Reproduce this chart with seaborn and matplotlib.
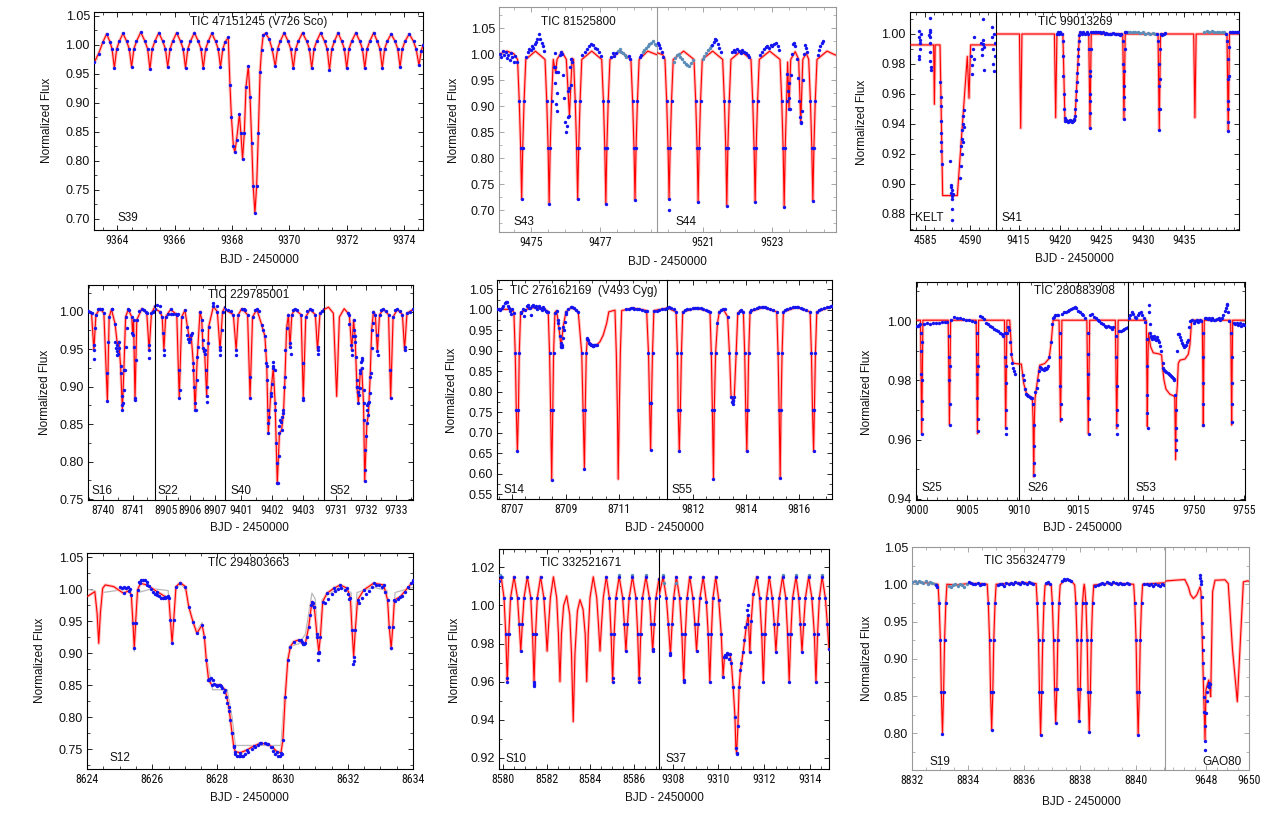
import numpy as np
import matplotlib
matplotlib.use("Agg")
import matplotlib.pyplot as plt
import seaborn as sns
from matplotlib import font_manager
from matplotlib.ticker import FixedLocator, MultipleLocator

# ===================== DATA =====================
# ---- Panel A : TIC 47151245 (V726 Sco), S39
A_model = [
 (9363.20,0.970),(9363.35,0.985),(9363.50,1.005),(9363.63,1.019),(9363.75,1.005),(9363.82,0.993),(9363.90,0.960),
 (9363.98,0.993),(9364.07,1.006),(9364.20,1.020),(9364.33,1.006),(9364.42,0.993),(9364.50,0.962),
 (9364.58,0.993),(9364.67,1.006),(9364.82,1.022),(9364.97,1.006),(9365.06,0.993),(9365.14,0.958),
 (9365.22,0.993),(9365.31,1.006),(9365.45,1.021),(9365.59,1.006),(9365.68,0.993),(9365.76,0.962),
 (9365.84,0.993),(9365.93,1.006),(9366.07,1.021),(9366.21,1.006),(9366.30,0.993),(9366.38,0.960),
 (9366.46,0.993),(9366.55,1.006),(9366.69,1.021),(9366.83,1.006),(9366.92,0.993),(9367.00,0.960),
 (9367.08,0.993),(9367.17,1.006),(9367.30,1.020),(9367.43,1.006),(9367.52,0.993),(9367.60,0.962),
 (9367.68,0.993),(9367.76,1.005),(9367.87,1.013),(9367.93,0.931),(9367.98,0.876),(9368.05,0.825),(9368.10,0.815),
 (9368.16,0.836),(9368.26,0.880),(9368.31,0.848),(9368.37,0.803),(9368.43,0.848),(9368.49,0.928),(9368.57,0.963),
 (9368.63,0.911),(9368.69,0.830),(9368.74,0.756),(9368.80,0.710),(9368.86,0.756),(9368.92,0.848),(9368.98,0.954),
 (9369.03,0.991),(9369.09,1.017),(9369.17,1.020),(9369.30,1.010),(9369.40,0.993),(9369.51,0.963),
 (9369.59,0.993),(9369.68,1.006),(9369.82,1.021),(9369.96,1.006),(9370.05,0.993),(9370.14,0.960),
 (9370.22,0.993),(9370.31,1.006),(9370.46,1.021),(9370.61,1.006),(9370.70,0.993),(9370.78,0.960),
 (9370.86,0.993),(9370.95,1.006),(9371.09,1.021),(9371.23,1.006),(9371.32,0.993),(9371.40,0.957),
 (9371.48,0.993),(9371.57,1.006),(9371.70,1.021),(9371.83,1.006),(9371.92,0.993),(9372.00,0.960),
 (9372.08,0.993),(9372.17,1.006),(9372.32,1.021),(9372.46,1.006),(9372.55,0.993),(9372.63,0.960),
 (9372.71,0.993),(9372.80,1.006),(9372.94,1.021),(9373.07,1.006),(9373.16,0.993),(9373.24,0.960),
 (9373.32,0.993),(9373.41,1.006),(9373.55,1.019),(9373.69,1.006),(9373.78,0.993),(9373.86,0.962),
 (9373.94,0.993),(9374.03,1.006),(9374.18,1.019),(9374.33,1.006),(9374.42,0.993),(9374.52,0.965),
 (9374.60,0.990),(9374.66,1.000)]

# ---- Panel B : TIC 81525800, S43 | S44
B1_model = [
 (9474.07,1.000),(9474.30,1.006),(9474.50,1.001),(9474.61,0.990),(9474.66,0.910),(9474.70,0.820),(9474.73,0.721),
 (9474.76,0.820),(9474.80,0.910),(9474.85,0.990),(9475.13,1.006),(9475.41,0.990),(9475.46,0.910),(9475.50,0.820),
 (9475.53,0.712),(9475.56,0.820),(9475.60,0.910),(9475.65,0.990),(9475.69,0.975),(9475.72,0.965),(9475.76,0.990),
 (9475.90,1.005),(9476.03,0.990),(9476.08,0.930),(9476.12,0.882),(9476.16,0.940),(9476.20,0.992),(9476.24,0.990),
 (9476.29,0.910),(9476.33,0.820),(9476.36,0.721),(9476.39,0.820),(9476.43,0.910),(9476.48,0.990),(9476.77,1.006),
 (9477.06,0.990),(9477.11,0.910),(9477.15,0.820),(9477.18,0.713),(9477.21,0.820),(9477.25,0.910),(9477.30,0.990),
 (9477.60,1.006),(9477.91,0.990),(9477.96,0.910),(9478.00,0.820),(9478.03,0.720),(9478.06,0.820),(9478.10,0.910),
 (9478.15,0.990),(9478.40,1.006),(9478.67,0.999)]
B2_model = [
 (9519.68,1.003),(9519.85,0.999),(9519.91,0.990),(9519.96,0.910),(9520.00,0.820),(9520.03,0.722),(9520.06,0.820),
 (9520.10,0.910),(9520.15,0.990),(9520.45,1.006),(9520.75,0.990),(9520.80,0.910),(9520.84,0.820),(9520.87,0.716),
 (9520.90,0.820),(9520.94,0.910),(9520.99,0.990),(9521.29,1.006),(9521.58,0.990),(9521.63,0.910),(9521.67,0.820),
 (9521.70,0.709),(9521.73,0.820),(9521.77,0.910),(9521.82,0.990),(9522.11,1.006),(9522.40,0.990),(9522.45,0.910),
 (9522.49,0.820),(9522.52,0.716),(9522.55,0.820),(9522.59,0.910),(9522.64,0.990),(9522.94,1.006),(9523.24,0.990),
 (9523.29,0.910),(9523.33,0.820),(9523.36,0.707),(9523.39,0.820),(9523.43,0.910),(9523.46,0.985),(9523.50,0.895),
 (9523.55,0.990),(9523.68,1.005),(9523.78,0.990),(9523.84,0.868),(9523.90,0.990),(9524.00,1.002),(9524.07,0.990),
 (9524.12,0.910),(9524.16,0.820),(9524.19,0.718),(9524.22,0.820),(9524.26,0.910),(9524.31,0.990),(9524.60,1.006),
 (9524.86,0.998)]
B1_obs = [
 (9474.10,1.000),(9474.14,0.995),(9474.18,1.006),(9474.22,0.998),(9474.26,1.004),(9474.30,0.992),(9474.34,0.999),
 (9474.38,0.988),(9474.42,1.002),(9474.46,0.994),(9474.50,0.986),(9474.54,0.996),(9474.58,0.985),
 (9474.87,0.995),(9474.91,1.004),(9474.95,1.010),(9474.99,1.008),(9475.03,1.015),(9475.07,1.012),(9475.11,1.020),
 (9475.15,1.024),(9475.19,1.030),(9475.23,1.038),(9475.27,1.030),(9475.31,1.022),(9475.35,1.016),(9475.39,1.006),
 (9475.67,0.975),(9475.69,1.003),(9475.71,0.945),(9475.73,0.905),(9475.75,0.890),(9475.77,0.925),(9475.80,0.965),
 (9475.84,0.998),(9475.87,1.005),(9475.90,1.000),(9475.93,0.960),(9475.96,0.915),(9475.99,0.870),(9476.01,0.850),
 (9476.04,0.862),(9476.07,0.880),(9476.10,0.935),(9476.13,0.975),(9476.16,0.990),(9476.19,0.985),
 (9476.50,0.998),(9476.56,1.005),(9476.62,1.010),(9476.68,1.015),(9476.74,1.020),(9476.80,1.018),(9476.86,1.012),
 (9476.92,1.010),(9476.98,1.004),(9477.03,0.996),(9477.33,0.995),(9477.38,1.002),(9477.43,0.996),(9477.48,1.003),
 (9477.85,0.996),(9477.89,0.990),(9478.17,0.995),(9478.21,0.998)]
B1_obs2 = [
 (9477.53,1.006),(9477.58,1.010),(9477.63,1.005),(9477.68,1.002),(9477.73,0.998),(9477.78,0.994),(9478.25,1.004),
 (9478.30,1.008),(9478.35,1.012),(9478.40,1.016),(9478.45,1.020),(9478.50,1.022),(9478.55,1.025),(9478.60,1.020),
 (9478.65,1.018)]
B2_obs = [
 (9519.70,1.022),(9519.74,1.018),(9519.78,1.012),(9519.82,1.004),(9519.86,0.995),(9520.04,0.700),
 (9521.28,1.018),(9521.32,1.024),(9521.36,1.030),(9521.40,1.028),(9521.44,1.020),(9521.48,1.012),(9521.52,1.004),
 (9521.85,1.004),(9521.90,1.008),(9521.95,1.005),(9522.00,1.010),(9522.05,1.006),(9522.10,1.003),(9522.15,1.008),
 (9522.20,1.004),(9522.25,1.002),(9522.30,0.998),(9522.35,0.995),
 (9522.67,0.998),(9522.72,1.004),(9522.77,1.010),(9522.82,1.014),(9522.87,1.016),(9522.92,1.012),(9522.97,1.018),
 (9523.02,1.015),(9523.07,1.020),(9523.12,1.022),(9523.17,1.016),(9523.21,1.008),
 (9523.45,0.962),(9523.47,0.930),(9523.49,0.945),(9523.51,0.915),(9523.53,0.895),(9523.56,0.960),(9523.59,1.000),
 (9523.62,1.020),(9523.65,1.022),(9523.68,1.015),(9523.72,0.990),(9523.75,0.955),(9523.78,0.910),(9523.81,0.880),
 (9523.84,0.870),(9523.87,0.890),(9523.90,0.950),(9523.93,1.000),(9523.96,1.018),(9523.99,1.012),(9524.03,1.004),
 (9524.33,0.998),(9524.37,1.008),(9524.41,1.015),(9524.45,1.022),(9524.49,1.025)]
B2_obs2 = [
 (9520.16,0.985),(9520.21,0.992),(9520.26,0.998),(9520.31,1.000),(9520.36,0.995),(9520.41,0.990),(9520.46,0.986),
 (9520.51,0.982),(9520.56,0.980),(9520.61,0.978),(9520.66,0.983),(9520.71,0.988),
 (9521.00,0.990),(9521.05,0.996),(9521.10,1.002),(9521.15,1.008),(9521.20,1.012),(9521.24,1.016)]

# ---- Panel C : TIC 99013269, KELT | S41
C1_model = [
 (4583.33,0.9927),(4585.96,0.9927),(4586.04,0.953),(4586.13,0.9927),(4586.67,0.9927),(4586.96,0.892),
 (4588.59,0.892),(4589.70,0.985),(4589.89,0.957),(4590.07,0.9927),(4592.89,0.9927)]
C1_obs = [
 (4584.30,1.002),(4584.35,0.998),(4584.40,0.994),(4584.42,0.990),(4584.38,0.983),(4584.45,0.996),(4584.50,1.000),
 (4584.32,0.985),(4585.50,1.011),(4585.52,1.003),(4585.55,0.998),(4585.58,0.994),(4585.60,0.988),(4585.55,0.982),
 (4585.62,0.978),(4585.65,0.976),(4585.48,0.999),(4585.60,1.001),(4586.70,0.968),(4586.73,0.958),(4586.75,0.952),
 (4586.78,0.934),(4586.80,0.928),(4586.82,0.922),(4586.84,0.913),(4586.75,0.942),(4587.75,0.915),(4587.85,0.898),
 (4587.90,0.894),(4587.95,0.892),(4588.00,0.890),(4588.02,0.896),(4587.98,0.883),(4588.05,0.876),(4587.92,0.899),
 (4588.08,0.893),(4588.90,0.904),(4588.98,0.912),(4589.05,0.925),(4589.10,0.930),(4589.15,0.936),(4589.20,0.940),
 (4589.25,0.945),(4589.30,0.949),(4589.12,0.920),(4589.22,0.928),(4589.28,0.938),(4590.10,0.985),(4590.18,0.979),
 (4590.25,0.973),(4590.30,0.990),(4590.40,0.998),(4590.50,0.983),(4591.25,0.994),(4591.30,0.990),(4591.35,0.986),
 (4591.40,0.996),(4591.45,1.010),(4591.50,0.993),(4591.55,0.976),(4591.60,0.991),(4592.45,1.005),(4592.50,0.998),
 (4592.55,0.990),(4592.60,0.980),(4592.65,0.975),(4592.70,1.000),(4592.75,0.985),(4592.80,0.994)]
C2_model = [
 (9412.28,1.000),(9415.11,1.000),(9415.26,0.937),(9415.41,1.000),(9419.33,1.000),(9419.48,0.944),(9419.63,1.000),
 (9420.35,1.000),(9420.60,0.942),(9421.80,0.942),(9422.35,1.000),(9423.47,1.000),(9423.62,0.937),(9423.77,1.000),
 (9427.57,1.000),(9427.72,0.943),(9427.87,1.000),(9431.83,1.000),(9431.98,0.936),(9432.13,1.000),(9436.13,1.000),
 (9436.28,0.944),(9436.43,1.000),(9440.15,1.000),(9440.30,0.935),(9440.45,1.000),(9441.60,1.000)]
C2_obs = [
 (9419.60,1.000),(9419.75,1.001),(9419.90,1.000),(9420.05,1.001),(9420.20,1.000),(9420.32,0.995),(9420.38,0.985),
 (9420.42,0.972),(9420.46,0.960),(9420.50,0.950),(9420.55,0.944),(9420.65,0.942),(9420.75,0.9425),(9420.85,0.942),
 (9420.95,0.9415),(9421.05,0.942),(9421.15,0.9425),(9421.25,0.942),(9421.35,0.942),(9421.45,0.9415),(9421.55,0.942),
 (9421.65,0.9425),(9421.75,0.943),(9421.82,0.945),(9421.87,0.950),(9421.92,0.956),(9421.97,0.962),(9422.02,0.968),
 (9422.07,0.974),(9422.12,0.980),(9422.17,0.985),(9422.22,0.990),(9422.27,0.995),(9422.32,0.999),(9422.40,1.001),
 (9422.60,1.000),(9422.80,1.001),(9423.00,1.000),(9423.20,1.001),(9423.40,1.000),(9423.55,0.990),(9423.58,0.975),
 (9423.60,0.960),(9423.62,0.947),(9423.63,0.937),(9423.65,0.955),(9423.67,0.972),(9423.70,0.990),(9423.80,1.001),
 (9424.00,1.001),(9424.20,1.0015),(9424.40,1.001),(9424.60,1.0015),(9424.80,1.001),(9425.00,1.0005),(9425.20,1.001),
 (9425.40,1.000),(9425.60,1.0005),(9425.80,1.000),(9426.00,1.000),(9426.20,1.000),(9426.40,1.0005),(9426.60,1.000),
 (9426.80,1.000),(9427.00,1.000),(9427.20,0.9995),(9427.40,1.000),(9427.60,0.995),(9427.65,0.980),(9427.68,0.965),
 (9427.71,0.950),(9427.73,0.943),(9427.75,0.958),(9427.78,0.975),(9427.81,0.990),(9427.90,1.001),(9428.00,1.0015),
 (9431.75,1.000),(9431.88,0.995),(9431.92,0.980),(9431.95,0.965),(9431.97,0.950),(9431.99,0.936),(9432.01,0.950),
 (9432.04,0.970),(9432.08,0.990),(9432.15,1.000),(9432.30,0.9995),(9432.50,1.000),(9432.70,1.0005),
 (9440.05,1.000),(9440.18,0.995),(9440.22,0.983),(9440.25,0.970),(9440.27,0.955),(9440.29,0.941),(9440.31,0.935),
 (9440.33,0.950),(9440.36,0.972),(9440.40,0.991),(9440.50,1.001),(9440.70,1.0015),(9440.90,1.001),(9441.10,1.0015),
 (9441.30,1.001),(9441.50,1.001)]
C2_obs2 = [
 (9428.2,1.001),(9428.5,1.0015),(9428.8,1.001),(9429.1,1.0015),(9429.4,1.001),(9429.7,1.0005),(9430.0,1.001),
 (9430.3,1.000),(9430.6,1.0005),(9430.9,1.000),(9431.2,1.0005),(9431.5,1.000),(9437.4,1.0015),(9437.7,1.002),
 (9438.0,1.0015),(9438.3,1.002),(9438.6,1.0015),(9438.9,1.001),(9439.2,1.0015),(9439.5,1.001),(9439.8,1.001)]

# ---- Panel D : TIC 229785001, S16 | S22 | S40 | S52
D1_model = [
 (8739.48,1.001),(8739.60,0.998),(8739.68,0.949),(8739.75,0.996),(8739.89,1.004),(8740.02,0.998),(8740.14,0.881),
 (8740.20,0.993),(8740.28,1.003),(8740.40,0.984),(8740.48,0.956),(8740.53,0.960),(8740.59,0.927),(8740.65,0.869),
 (8740.70,0.922),(8740.76,0.993),(8740.85,1.003),(8740.97,0.993),(8741.00,0.969),(8741.03,0.989),(8741.08,0.882),
 (8741.14,0.989),(8741.31,1.004),(8741.48,0.998),(8741.56,0.949),(8741.64,0.998),(8741.76,1.007)]
D2_model = [
 (8904.57,1.004),(8904.77,1.000),(8904.86,0.993),(8904.93,0.949),(8905.00,0.993),(8905.20,1.003),(8905.45,0.996),
 (8905.55,0.885),(8905.65,0.993),(8905.78,1.002),(8905.88,0.980),(8905.96,0.964),(8906.03,0.969),(8906.12,0.931),
 (8906.19,0.869),(8906.28,0.940),(8906.39,1.000),(8906.46,0.989),(8906.51,0.951),(8906.58,0.944),(8906.66,0.887),
 (8906.74,0.980),(8906.93,1.007),(8907.09,1.000),(8907.20,0.949),(8907.30,1.000),(8907.40,1.006)]
D3_model = [
 (9400.49,1.003),(9400.76,0.996),(9400.85,0.949),(9400.92,0.996),(9401.03,1.004),(9401.22,0.996),(9401.30,0.885),
 (9401.38,0.993),(9401.52,1.003),(9401.68,0.982),(9401.78,0.967),(9401.84,0.927),(9401.89,0.838),(9401.97,0.891),
 (9402.05,0.925),(9402.11,0.878),(9402.18,0.771),(9402.25,0.838),(9402.32,0.842),(9402.38,0.865),(9402.43,0.913),
 (9402.48,0.978),(9402.54,0.996),(9402.59,0.953),(9402.65,0.996),(9402.75,1.003),(9402.95,0.996),(9403.02,0.885),
 (9403.10,0.993),(9403.24,1.003),(9403.41,0.996),(9403.48,0.949),(9403.56,0.998),(9403.69,1.003)]
D4_model = [
 (9730.61,1.003),(9730.76,1.006),(9730.92,0.998),(9731.03,0.887),(9731.12,0.993),(9731.28,1.004),(9731.45,0.996),
 (9731.53,0.949),(9731.59,0.989),(9731.64,0.967),(9731.70,0.900),(9731.75,0.878),(9731.81,0.918),(9731.86,0.925),
 (9731.92,0.878),(9731.96,0.774),(9732.03,0.851),(9732.08,0.862),(9732.14,0.913),(9732.19,0.976),(9732.25,1.000),
 (9732.31,0.996),(9732.38,0.947),(9732.45,0.996),(9732.58,1.003),(9732.75,0.996),(9732.82,0.885),(9732.90,0.993),
 (9733.04,1.003),(9733.21,0.996),(9733.28,0.949),(9733.36,0.998),(9733.56,1.003)]
D1_obs = [
 (8739.68,0.937),(8739.68,0.956),(8739.72,0.978),(8740.14,0.918),(8740.16,0.960),(8740.40,0.960),(8740.43,0.952),
 (8740.45,0.948),(8740.48,0.942),(8740.51,0.944),(8740.55,0.951),(8740.59,0.918),(8740.63,0.887),(8740.65,0.876),
 (8740.67,0.878),(8740.70,0.896),(8740.74,0.922),(8740.77,0.953),(8740.80,0.978),(8740.97,0.971),(8741.05,0.953),
 (8741.08,0.885),(8741.11,0.936),(8741.56,0.956),(8741.56,0.938),(8739.55,1.000),(8739.82,1.003),(8739.95,1.004),
 (8740.30,1.003),(8740.88,1.002),(8741.20,1.001),(8741.38,1.002),(8741.45,1.000),(8741.68,0.999),(8741.72,1.001)]
D2_obs = [
 (8904.64,1.009),(8904.77,1.008),(8904.91,0.971),(8904.93,0.942),(8905.11,0.9965),(8905.20,0.9965),(8905.31,0.9965),
 (8905.42,0.9965),(8905.51,0.9965),(8905.55,0.922),(8905.58,0.896),(8905.88,0.969),(8905.92,0.964),(8905.96,0.960),
 (8905.99,0.964),(8906.03,0.969),(8906.05,0.971),(8906.09,0.922),(8906.15,0.900),(8906.19,0.878),(8906.22,0.869),
 (8906.26,0.909),(8906.32,0.953),(8906.46,0.976),(8906.50,0.962),(8906.55,0.947),(8906.59,0.949),(8906.64,0.922),
 (8906.66,0.900),(8906.69,0.880),(8906.73,0.958),(8906.93,1.011),(8907.07,1.008),(8907.20,0.953),(8907.20,0.942),
 (8907.27,0.976)]
D3_obs = [
 (9400.85,0.942),(9401.30,0.913),(9401.73,0.976),(9401.78,0.949),(9401.82,0.931),(9401.84,0.909),(9401.87,0.869),
 (9401.89,0.851),(9401.92,0.860),(9401.97,0.887),(9402.00,0.904),(9402.03,0.927),(9402.05,0.933),(9402.09,0.922),
 (9402.12,0.869),(9402.14,0.825),(9402.16,0.798),(9402.19,0.771),(9402.22,0.807),(9402.25,0.847),(9402.27,0.856),
 (9402.30,0.853),(9402.33,0.860),(9402.38,0.869),(9402.41,0.900),(9402.44,0.949),(9402.59,0.958),(9402.62,0.944),
 (9403.00,0.931),(9403.02,0.882),(9403.48,0.953),(9403.48,0.944),(9400.60,1.002),(9400.68,1.001),(9401.10,1.003),
 (9401.15,1.002),(9401.45,1.002),(9401.60,1.001),(9402.70,1.002),(9402.82,1.002),(9403.15,1.001),(9403.30,1.002),
 (9403.62,1.001)]
D4_obs = [
 (9731.45,0.984),(9731.50,0.956),(9731.53,0.942),(9731.56,0.967),(9731.61,0.976),(9731.65,0.960),(9731.67,0.940),
 (9731.70,0.909),(9731.72,0.900),(9731.74,0.893),(9731.76,0.889),(9731.79,0.898),(9731.81,0.922),(9731.83,0.933),
 (9731.86,0.938),(9731.88,0.936),(9731.92,0.896),(9731.94,0.856),(9731.96,0.816),(9731.98,0.789),(9732.01,0.834),
 (9732.03,0.869),(9732.05,0.876),(9732.08,0.878),(9732.11,0.880),(9732.14,0.891),(9732.16,0.918),(9732.19,0.951),
 (9732.23,0.985),(9732.36,0.969),(9732.40,0.942),(9732.80,0.922),(9733.28,0.953),(9731.40,0.998),(9732.50,1.002),
 (9732.65,1.001),(9732.95,1.002),(9733.12,1.001),(9733.45,1.000)]

# ---- Panel E : TIC 276162169 (V493 Cyg), S14 | S55
E1_model = [
 (8706.44,1.001),(8706.99,1.001),(8707.07,0.993),(8707.12,0.894),(8707.16,0.755),(8707.20,0.654),(8707.24,0.755),
 (8707.27,0.894),(8707.32,0.993),(8707.67,1.005),(8708.17,1.004),(8708.35,0.995),(8708.40,0.894),(8708.44,0.755),
 (8708.48,0.584),(8708.52,0.755),(8708.55,0.894),(8708.60,0.993),(8708.66,0.998),(8708.73,0.967),(8708.83,0.910),
 (8708.91,0.959),(8709.01,0.995),(8709.22,1.006),(8709.47,0.995),(8709.60,0.894),(8709.65,0.755),(8709.70,0.610),
 (8709.73,0.755),(8709.77,0.894),(8709.81,0.930),(8709.91,0.917),(8710.03,0.912),(8710.16,0.914),(8710.28,0.922),
 (8710.40,0.938),(8710.53,0.967),(8710.61,0.995),(8710.84,0.999),(8710.89,0.894),(8710.93,0.755),(8710.96,0.586),
 (8711.00,0.755),(8711.04,0.894),(8711.09,0.998),(8711.52,1.004),(8712.02,0.998),(8712.09,0.894),(8712.13,0.772),
 (8712.17,0.658),(8712.20,0.772),(8712.24,0.894),(8712.29,0.998),(8712.78,1.004)]
E2_model = [
 (9811.04,1.005),(9811.38,0.995),(9811.43,0.894),(9811.46,0.755),(9811.50,0.654),(9811.54,0.755),(9811.58,0.894),
 (9811.63,0.995),(9812.15,1.004),(9812.65,0.995),(9812.70,0.894),(9812.74,0.755),(9812.78,0.586),(9812.81,0.755),
 (9812.86,0.894),(9812.93,0.967),(9813.00,0.995),(9813.15,1.001),(9813.31,0.983),(9813.38,0.894),(9813.44,0.788),
 (9813.50,0.780),(9813.56,0.788),(9813.63,0.894),(9813.69,0.991),(9813.78,0.998),(9813.90,0.995),(9813.95,0.894),
 (9813.99,0.755),(9814.03,0.654),(9814.06,0.755),(9814.10,0.894),(9814.15,0.995),(9814.65,1.006),(9815.15,0.995),
 (9815.20,0.894),(9815.24,0.755),(9815.28,0.588),(9815.31,0.755),(9815.35,0.894),(9815.40,0.995),(9815.90,1.006),
 (9816.40,0.995),(9816.45,0.894),(9816.49,0.755),(9816.53,0.654),(9816.56,0.755),(9816.60,0.894),(9816.65,0.995),
 (9817.22,1.008)]
E1_cover = [(8706.44, 8710.16), (8711.19, 8712.79)]
E1_obs = [
 (8706.50,1.002),(8706.56,1.000),(8706.62,1.004),(8706.68,1.010),(8706.72,1.016),(8706.76,1.020),(8706.80,1.018),
 (8706.84,1.010),(8706.88,1.004),(8706.93,0.998),(8706.97,0.990),(8707.35,0.995),(8707.40,1.003),(8707.45,0.985),
 (8707.50,1.000),(8707.55,1.010),(8707.60,1.012),(8707.65,1.004),(8707.70,0.988),(8707.75,1.008),(8707.80,1.012),
 (8707.85,1.006),(8707.90,1.010),(8707.95,1.002),(8708.00,1.008),(8708.05,1.004),(8708.10,1.000),(8708.15,1.006),
 (8708.20,1.002),(8708.25,0.998),(8708.30,0.995),(8708.72,0.975),(8708.76,0.955),(8708.80,0.935),(8708.82,0.920),
 (8708.84,0.912),(8708.86,0.908),(8708.88,0.915),(8708.90,0.930),(8708.93,0.950),(8708.96,0.970),(8709.00,0.990),
 (8709.10,1.003),(8709.20,1.006),(8709.30,1.004),(8709.40,1.000),(8709.80,0.928),(8709.83,0.925),(8709.86,0.920),
 (8709.90,0.916),(8709.94,0.914),(8709.98,0.913),(8710.02,0.912),(8710.06,0.913),(8710.10,0.913),(8710.14,0.914),
 (8711.25,1.002),(8711.35,1.003),(8711.45,1.004),(8711.55,1.003),(8711.65,1.002),(8711.75,1.001),(8711.85,1.000),
 (8711.95,0.998),(8712.40,0.998),(8712.50,1.000),(8712.60,1.001),(8712.70,1.002)]
E2_obs = [
 (9811.10,1.006),(9811.20,1.004),(9811.30,1.001),(9811.70,1.000),(9811.80,1.002),(9811.90,1.003),(9812.00,1.004),
 (9812.10,1.004),(9812.20,1.005),(9812.30,1.004),(9812.40,1.003),(9812.50,1.000),(9812.58,0.998),(9813.08,1.000),
 (9813.20,1.001),(9813.46,0.775),(9813.50,0.770),(9813.53,0.778),(9813.82,0.999),(9814.20,1.000),(9814.30,1.003),
 (9814.40,1.005),(9814.50,1.006),(9814.60,1.006),(9814.70,1.006),(9814.80,1.005),(9814.90,1.003),(9815.00,1.000),
 (9815.45,1.000),(9815.55,1.003),(9815.65,1.005),(9815.75,1.006),(9815.85,1.007),(9815.95,1.006),(9816.05,1.005),
 (9816.15,1.003),(9816.25,1.000),(9816.72,1.000),(9816.82,1.002),(9816.92,1.004),(9817.02,1.006),(9817.12,1.007),
 (9817.20,1.008)]

# ---- Panel F : TIC 280883908, S25 | S26 | S53
F1_model = [
 (8999.93,1.0003),(9000.38,1.0003),(9000.50,0.962),(9000.62,1.0003),(9003.15,1.0003),(9003.27,0.965),(9003.39,1.0003),
 (9005.95,1.0003),(9006.07,0.962),(9006.19,1.0003),(9008.78,1.0003),(9008.90,0.964),(9009.02,1.0003),(9009.30,1.0003),
 (9009.40,0.995),(9009.50,0.988),(9009.65,0.9858),(9010.23,0.9855)]
F2_model = [
 (9010.00,0.9855),(9010.20,0.9855),(9010.40,0.979),(9010.63,0.9756),(9011.14,0.9739),(9011.20,0.9666),(9011.26,0.9474),
 (9011.31,0.9666),(9011.37,0.9739),(9011.54,0.979),(9011.77,0.9851),(9012.20,0.9857),(9012.57,0.9874),(9012.74,0.9925),
 (9012.91,1.0003),(9013.42,1.0003),(9013.54,0.966),(9013.66,1.0003),(9015.79,1.0003),(9015.91,0.962),(9016.03,1.0003),
 (9018.22,1.0003),(9018.34,0.9637),(9018.46,1.0003),(9019.30,1.0003)]
F3_model = [
 (9743.49,1.0003),(9745.30,1.0003),(9745.35,0.985),(9745.40,0.9644),(9745.45,0.985),(9745.52,0.9960),(9745.60,0.9942),
 (9745.73,0.9913),(9745.99,0.9893),(9746.59,0.9889),(9746.82,0.9885),(9746.92,0.984),(9747.05,0.9801),(9747.25,0.977),
 (9747.64,0.9753),(9748.04,0.9747),(9748.12,0.9740),(9748.20,0.9532),(9748.28,0.9740),(9748.37,0.978),(9748.47,0.9857),
 (9748.63,0.9868),(9749.13,0.9872),(9749.46,0.9888),(9749.62,0.992),(9749.79,1.0003),(9750.84,1.0003),(9750.89,0.985),
 (9750.94,0.9644),(9750.99,0.985),(9751.04,1.0003),(9753.65,1.0003),(9753.70,0.985),(9753.75,0.9649),(9753.80,0.985),
 (9753.85,1.0003),(9755.07,1.0003)]
F1_obs = [
 (9000.00,0.9982),(9000.10,0.9985),(9000.20,0.9988),(9000.30,0.9990),(9000.46,0.996),(9000.47,0.990),(9000.48,0.982),
 (9000.49,0.973),(9000.52,0.967),(9000.53,0.962),(9000.55,0.980),(9000.57,0.993),(9000.70,0.9990),(9001.00,0.9992),
 (9001.30,0.9990),(9001.60,0.9995),(9001.90,0.9993),(9002.20,0.9995),(9002.50,0.9997),(9002.80,0.9996),(9003.00,0.9998),
 (9003.23,0.995),(9003.24,0.988),(9003.26,0.980),(9003.28,0.972),(9003.29,0.965),(9003.31,0.985),(9003.40,1.0005),
 (9003.70,1.0015),(9004.00,1.0010),(9004.30,1.0012),(9004.60,1.0008),(9004.90,1.0005),(9005.20,1.0003),(9005.50,1.0002),
 (9005.80,0.9998),(9006.03,0.996),(9006.04,0.989),(9006.05,0.982),(9006.07,0.974),(9006.09,0.967),(9006.10,0.963),
 (9006.12,0.985),(9006.30,1.0018),(9006.50,1.0015),(9006.70,1.0008),(9006.90,0.9995),(9007.10,0.9990),(9007.30,0.9985),
 (9007.50,0.9980),(9007.70,0.9975),(9007.90,0.9970),(9008.10,0.9965),(9008.30,0.9960),(9008.50,0.9955),(9008.65,0.9950),
 (9008.86,0.996),(9008.87,0.988),(9008.89,0.979),(9008.90,0.970),(9008.91,0.964),(9008.92,0.962),(9008.94,0.985),
 (9009.05,0.9960),(9009.15,0.9980),(9009.25,0.9970),(9009.35,0.9930),(9009.45,0.9890),(9009.55,0.9860),(9009.65,0.9840),
 (9009.75,0.9830),(9009.85,0.9820)]
F2_obs = [
 (9010.30,0.9818),(9010.40,0.9800),(9010.50,0.9770),(9010.60,0.9755),(9010.70,0.9750),(9010.80,0.9748),(9010.90,0.9745),
 (9011.00,0.9742),(9011.10,0.9740),(9011.22,0.972),(9011.24,0.965),(9011.25,0.958),(9011.27,0.952),(9011.28,0.948),
 (9011.40,0.9760),(9011.50,0.9775),(9011.60,0.9800),(9011.70,0.9830),(9011.80,0.9845),(9011.90,0.9840),(9012.00,0.9838),
 (9012.10,0.9835),(9012.20,0.9840),(9012.30,0.9838),(9012.40,0.9842),(9012.50,0.9850),(9012.60,0.9880),(9012.70,0.9930),
 (9012.80,0.9990),(9012.90,1.0010),(9013.00,1.0015),(9013.10,1.0020),(9013.20,1.0022),(9013.30,1.0020),(9013.50,0.996),
 (9013.51,0.988),(9013.53,0.978),(9013.55,0.972),(9013.57,0.967),(9013.70,1.0025),(9013.85,1.0030),(9014.00,1.0032),
 (9014.15,1.0035),(9014.30,1.0038),(9014.45,1.0040),(9014.60,1.0045),(9014.75,1.0048),(9014.90,1.0045),(9015.05,1.0035),
 (9015.20,1.0030),(9015.35,1.0025),(9015.50,1.0020),(9015.65,1.0012),(9015.87,0.996),(9015.88,0.989),(9015.90,0.982),
 (9015.92,0.974),(9015.93,0.967),(9015.94,0.962),(9016.10,1.0020),(9016.25,1.0025),(9016.40,1.0015),(9016.55,1.0010),
 (9016.70,1.0005),(9016.85,1.0000),(9017.00,0.9995),(9017.15,0.9990),(9017.30,0.9985),(9017.45,0.9980),(9017.60,0.9985),
 (9017.75,0.9980),(9017.90,0.9975),(9018.05,0.9980),(9018.30,0.995),(9018.31,0.988),(9018.33,0.978),(9018.35,0.970),
 (9018.36,0.965),(9018.37,0.962),(9018.55,0.9968),(9018.70,0.9965),(9018.85,0.9970),(9019.00,0.9972),(9019.15,0.9978),
 (9019.30,0.9980)]
F3_obs = [
 (9743.55,1.0010),(9743.70,1.0020),(9743.85,1.0031),(9744.00,1.0025),(9744.15,1.0015),(9744.30,1.0010),(9744.45,1.0020),
 (9744.60,1.0028),(9744.75,1.0031),(9744.90,1.0022),(9745.05,1.0010),(9745.20,0.9998),(9745.38,0.994),(9745.39,0.985),
 (9745.40,0.975),(9745.41,0.969),(9745.42,0.964),(9745.55,1.0054),(9745.58,1.0030),(9745.62,0.9990),(9745.66,0.9960),
 (9745.72,0.9950),(9745.80,0.9945),(9745.90,0.9940),(9746.00,0.9945),(9746.10,0.9950),(9746.20,0.9940),(9746.30,0.9935),
 (9746.40,0.9945),(9746.50,0.9935),(9746.60,0.9930),(9746.70,0.9915),(9746.80,0.9900),(9746.92,0.9860),(9747.00,0.9840),
 (9747.10,0.9835),(9747.20,0.9830),(9747.30,0.9828),(9747.40,0.9825),(9747.50,0.9820),(9747.60,0.9818),(9747.70,0.9815),
 (9747.80,0.9810),(9747.90,0.9807),(9748.00,0.9805),(9748.08,0.9801),(9748.19,0.9750),(9748.20,0.9700),(9748.21,0.9640),
 (9748.22,0.9600),(9748.23,0.9565),(9748.35,0.9900),(9748.42,0.9958),(9748.50,0.9955),(9748.60,0.9945),(9748.70,0.9935),
 (9748.80,0.9925),(9748.90,0.9918),(9749.00,0.9913),(9749.10,0.9915),(9749.20,0.9920),(9749.30,0.9930),(9749.40,0.9935),
 (9749.55,0.9980),(9749.65,1.0000),(9749.85,1.0005),(9750.00,0.9995),(9750.15,1.0002),(9750.30,1.0005),(9750.45,0.9998),
 (9750.60,1.0003),(9750.75,1.0000),(9750.92,0.996),(9750.93,0.988),(9750.94,0.979),(9750.95,0.972),(9750.96,0.965),
 (9751.10,1.0010),(9751.25,1.0012),(9751.40,1.0008),(9751.55,1.0010),(9751.70,1.0005),(9751.85,1.0010),(9752.00,1.0003),
 (9752.15,1.0005),(9752.30,1.0008),(9752.45,1.0010),(9752.60,1.0005),(9752.75,1.0010),(9752.90,1.0020),(9753.05,1.0035),
 (9753.15,1.0045),(9753.25,1.0055),(9753.32,1.0059),(9753.40,1.0030),(9753.50,1.0000),(9753.73,0.996),(9753.74,0.988),
 (9753.75,0.979),(9753.76,0.972),(9753.77,0.966),(9753.95,0.9995),(9754.10,0.9990),(9754.25,0.9993),(9754.40,0.9988),
 (9754.55,0.9992),(9754.70,0.9985),(9754.85,0.9990),(9755.00,0.9988)]

# ---- Panel G : TIC 294803663, S12
G_model = [
 (8624.00,0.9885),(8624.24,0.9963),(8624.31,0.9625),(8624.36,0.9156),(8624.41,0.9625),(8624.48,1.0015),(8624.56,1.0068),
 (8624.82,1.0042),(8625.12,0.9937),(8625.28,0.9979),(8625.36,0.9911),(8625.41,0.9468),(8625.45,0.9078),(8625.49,0.9468),
 (8625.55,0.9989),(8625.64,1.0094),(8625.84,1.0068),(8626.15,0.9963),(8626.40,0.9885),(8626.51,0.9859),(8626.56,0.952),
 (8626.61,0.9156),(8626.66,0.952),(8626.73,1.0042),(8626.86,1.0104),(8627.02,1.0042),(8627.12,0.9729),(8627.25,0.9494),
 (8627.37,0.9312),(8627.53,0.9442),(8627.60,0.926),(8627.66,0.8895),(8627.73,0.8583),(8627.83,0.8505),(8628.09,0.8505),
 (8628.24,0.8426),(8628.35,0.8166),(8628.45,0.7749),(8628.50,0.7541),(8628.55,0.7463),(8628.70,0.7447),(8628.91,0.7489),
 (8629.11,0.7551),(8629.32,0.7593),(8629.52,0.7582),(8629.67,0.7541),(8629.83,0.7463),(8629.95,0.7447),(8630.01,0.7645),
 (8630.08,0.8322),(8630.16,0.8895),(8630.24,0.9104),(8630.34,0.9182),(8630.49,0.9208),(8630.63,0.9145),(8630.70,0.9156),
 (8630.80,0.9416),(8630.90,0.9807),(8630.97,0.9729),(8631.06,0.926),(8631.11,0.9026),(8631.16,0.926),(8631.23,0.9807),
 (8631.36,0.9937),(8631.57,1.0015),(8631.77,1.0068),(8631.98,1.0015),(8632.08,0.9859),(8632.13,0.9364),(8632.18,0.8947),
 (8632.23,0.9364),(8632.30,0.9833),(8632.49,0.9989),(8632.79,1.0094),(8633.10,1.0068),(8633.22,0.9833),(8633.27,0.9416),
 (8633.33,0.9078),(8633.38,0.9416),(8633.43,0.9833),(8633.61,0.9885),(8634.00,1.0120)]
G_gray = [
 (8624.00,1.000),(8624.24,0.998),(8624.36,0.914),(8624.48,0.995),(8625.20,1.000),(8625.33,0.998),(8625.45,0.903),
 (8625.57,0.995),(8626.00,1.001),(8626.49,0.998),(8626.61,0.914),(8626.73,1.000),(8626.86,1.008),(8627.00,1.002),
 (8627.20,0.960),(8627.37,0.935),(8627.53,0.948),(8627.68,0.890),(8627.85,0.843),(8628.30,0.843),(8628.45,0.800),
 (8628.55,0.756),(8629.95,0.756),(8630.05,0.830),(8630.20,0.910),(8630.50,0.915),(8630.70,0.930),(8630.90,0.994),
 (8631.00,0.985),(8631.11,0.905),(8631.22,0.985),(8631.50,0.995),(8631.77,1.003),(8632.00,0.998),(8632.10,0.995),
 (8632.18,0.895),(8632.28,0.995),(8632.80,1.003),(8633.20,0.998),(8633.33,0.905),(8633.45,0.995),(8634.00,1.003)]
G_cover = [(8625.0, 8634.0)]
G_obs = [
 (8625.02,1.003),(8625.08,1.0025),(8625.14,1.003),(8625.20,1.002),(8625.26,1.0035),(8625.32,1.001),(8625.60,1.012),
 (8625.66,1.0145),(8625.72,1.015),(8625.78,1.014),(8625.84,1.012),(8625.90,1.005),(8625.96,1.000),(8626.02,0.996),
 (8626.08,0.993),(8626.14,0.991),(8626.20,0.989),(8626.26,0.987),(8626.32,0.986),(8626.38,0.986),(8626.44,0.988),
 (8626.48,0.990),(8627.70,0.858),(8627.75,0.860),(8627.80,0.862),(8627.85,0.858),(8627.90,0.852),(8627.95,0.850),
 (8628.00,0.849),(8628.05,0.850),(8628.10,0.849),(8628.15,0.846),(8628.20,0.840),(8628.25,0.832),(8628.30,0.822),
 (8628.35,0.810),(8628.40,0.795),(8628.45,0.775),(8628.50,0.755),(8628.55,0.742),(8628.60,0.740),(8628.65,0.739),
 (8628.70,0.739),(8628.75,0.739),(8628.80,0.740),(8628.85,0.742),(8628.95,0.746),(8629.05,0.750),(8629.15,0.754),
 (8629.25,0.757),(8629.35,0.760),(8629.45,0.760),(8629.55,0.758),(8629.65,0.754),(8629.72,0.748),(8629.78,0.742),
 (8629.85,0.740),(8629.92,0.740),(8629.97,0.742),(8630.55,0.920),(8630.60,0.918),(8630.65,0.915),(8630.75,0.925),
 (8630.85,0.960),(8630.88,0.975),(8630.92,0.978),(8630.95,0.972),(8631.05,0.930),(8631.08,0.900),(8631.10,0.890),
 (8631.13,0.900),(8631.30,0.978),(8631.40,0.985),(8631.50,0.992),(8631.60,0.997),(8631.70,1.001),(8631.80,1.002),
 (8631.90,0.999),(8632.00,0.993),(8632.05,0.985),(8632.17,0.884),(8632.19,0.888),(8632.35,0.978),(8632.45,0.986),
 (8632.55,0.993),(8632.65,0.998),(8632.75,1.003),(8632.85,1.006),(8632.95,1.006),(8633.05,1.004),(8633.15,0.995),
 (8633.45,0.982),(8633.55,0.985),(8633.65,0.989),(8633.75,0.995),(8633.85,1.003),(8633.95,1.010),(8633.99,1.014)]

# ---- Panel H : TIC 332521671, S10 | S37
H1_model = [
 (8579.80,1.013),(8579.90,1.015),(8580.03,1.004),(8580.11,0.985),(8580.18,0.960),(8580.25,0.985),(8580.33,1.004),
 (8580.49,1.015),(8580.65,1.004),(8580.73,0.990),(8580.80,0.976),(8580.87,0.990),(8580.95,1.004),(8581.10,1.015),
 (8581.26,1.004),(8581.34,0.985),(8581.41,0.960),(8581.48,0.985),(8581.56,1.004),(8581.71,1.015),(8581.86,1.004),
 (8581.94,0.990),(8582.01,0.976),(8582.08,0.990),(8582.16,1.004),(8582.30,1.015),(8582.45,1.004),(8582.53,0.985),
 (8582.60,0.960),(8582.67,0.985),(8582.77,1.000),(8582.91,1.005),(8583.05,0.995),(8583.13,0.975),(8583.21,0.939),
 (8583.29,0.975),(8583.40,0.997),(8583.52,1.003),(8583.66,0.998),(8583.76,0.985),(8583.83,0.960),(8583.90,0.985),
 (8583.98,1.004),(8584.13,1.015),(8584.29,1.004),(8584.37,0.990),(8584.44,0.976),(8584.51,0.990),(8584.59,1.004),
 (8584.73,1.015),(8584.87,1.004),(8584.95,0.985),(8585.02,0.960),(8585.09,0.985),(8585.17,1.004),(8585.32,1.015),
 (8585.48,1.004),(8585.56,0.990),(8585.63,0.976),(8585.70,0.990),(8585.78,1.004),(8585.93,1.015),(8586.09,1.004),
 (8586.17,0.985),(8586.24,0.960),(8586.31,0.985),(8586.39,1.004),(8586.55,1.015),(8586.71,1.004),(8586.79,0.990),
 (8586.86,0.976),(8586.93,0.990),(8587.01,1.004),(8587.15,1.014)]
H2_model = [
 (9307.40,1.005),(9307.58,1.015),(9307.72,1.004),(9307.81,0.990),(9307.90,0.974),(9307.97,0.990),(9308.04,1.004),
 (9308.16,1.015),(9308.30,1.004),(9308.40,0.985),(9308.48,0.960),(9308.55,0.985),(9308.63,1.004),(9308.74,1.015),
 (9308.88,1.004),(9308.97,0.990),(9309.04,0.976),(9309.11,0.990),(9309.19,1.004),(9309.33,1.015),(9309.47,1.002),
 (9309.55,0.985),(9309.62,0.960),(9309.69,0.985),(9309.76,1.004),(9309.88,1.015),(9310.01,1.003),(9310.12,0.985),
 (9310.20,0.9626),(9310.26,0.973),(9310.32,0.973),(9310.42,0.9745),(9310.50,0.9745),(9310.56,0.970),(9310.64,0.9573),
 (9310.72,0.9416),(9310.76,0.925),(9310.79,0.9225),(9310.85,0.937),(9310.90,0.957),(9310.96,0.966),(9311.08,0.9757),
 (9311.23,0.9905),(9311.30,0.995),(9311.37,0.9757),(9311.43,0.992),(9311.52,1.006),(9311.67,1.015),(9311.80,1.004),
 (9311.89,0.985),(9311.96,0.960),(9312.03,0.985),(9312.10,1.004),(9312.22,1.015),(9312.35,1.004),(9312.44,0.990),
 (9312.51,0.9757),(9312.58,0.990),(9312.66,1.004),(9312.80,1.015),(9312.94,1.004),(9313.02,0.985),(9313.09,0.960),
 (9313.16,0.985),(9313.24,1.004),(9313.39,1.015),(9313.51,1.004),(9313.58,0.990),(9313.65,0.9757),(9313.72,0.990),
 (9313.80,1.004),(9313.94,1.015),(9314.08,1.004),(9314.19,0.985),(9314.26,0.960),(9314.33,0.985),(9314.41,1.004),
 (9314.53,1.015),(9314.67,1.004),(9314.76,0.990),(9314.83,0.977)]
H1_cover = [(8579.80, 8581.88), (8584.70, 8587.15)]
H1_obs = [(8580.18,0.962),(8581.41,0.9575),(8581.41,0.9590),(8585.02,0.962),(8586.24,0.962),(8586.86,0.977)]
H1_obs2 = [(8579.86,1.016),(8579.92,1.015),(8585.30,1.016),(8585.93,1.016),(8586.55,1.016)]
H2_obs = [(9307.90,0.975),(9308.48,0.961),(9310.28,0.974),(9310.36,0.975),(9310.46,0.972),(9311.00,0.970),
          (9311.10,0.9818),(9311.17,0.9888),(9311.25,0.9975),(9311.28,1.000),(9310.80,0.922)]
H2_obs2 = [(9307.56,1.016),(9307.62,1.012),(9308.14,1.012),(9312.80,1.016),(9313.39,1.016),(9313.94,1.016),(9314.53,1.016)]

# ---- Panel I : TIC 356324779, S19 | GAO80
I1_model = [
 (8831.99,1.003),(8832.50,1.002),(8832.92,1.000),(8832.96,0.975),(8833.005,0.925),(8833.04,0.855),(8833.08,0.799),
 (8833.12,0.855),(8833.155,0.925),(8833.20,0.975),(8833.24,1.000),(8833.60,0.999),(8834.00,1.001),(8834.40,1.001),
 (8834.68,1.000),(8834.72,0.975),(8834.765,0.925),(8834.80,0.855),(8834.84,0.805),(8834.88,0.855),(8834.915,0.925),
 (8834.96,0.975),(8835.00,1.000),(8835.50,1.001),(8836.00,1.002),(8836.43,1.001),(8836.47,0.975),(8836.515,0.925),
 (8836.55,0.855),(8836.59,0.798),(8836.63,0.855),(8836.665,0.925),(8836.71,0.975),(8836.75,0.999),(8836.86,1.000),
 (8836.97,0.999),(8837.01,0.975),(8837.055,0.925),(8837.09,0.860),(8837.13,0.814),(8837.17,0.860),(8837.205,0.925),
 (8837.25,0.975),(8837.29,0.999),(8837.40,1.004),(8837.55,1.006),(8837.70,1.004),(8837.81,0.999),(8837.85,0.975),
 (8837.895,0.925),(8837.93,0.860),(8837.97,0.816),(8838.01,0.860),(8838.045,0.925),(8838.09,0.975),(8838.13,0.995),
 (8838.15,1.000),(8838.17,0.995),(8838.21,0.975),(8838.255,0.925),(8838.29,0.855),(8838.33,0.802),(8838.37,0.855),
 (8838.405,0.925),(8838.45,0.975),(8838.49,0.999),(8839.00,1.001),(8839.50,1.001),(8839.92,1.000),(8839.96,0.975),
 (8840.005,0.925),(8840.04,0.855),(8840.08,0.798),(8840.12,0.855),(8840.155,0.925),(8840.20,0.975),(8840.24,1.000),
 (8840.60,1.001),(8841.04,1.002)]
I2_model = [
 (9646.12,1.0040),(9646.20,1.0045),(9646.60,1.0055),(9647.04,1.0063),(9647.20,0.9965),(9647.30,0.986),(9647.43,0.9809),
 (9647.58,0.9853),(9647.74,0.9965),(9647.78,0.990),(9647.81,0.960),(9647.89,0.870),(9647.97,0.7912),(9648.01,0.8581),
 (9648.08,0.866),(9648.14,0.8715),(9648.19,0.860),(9648.23,0.8492),(9648.32,0.990),(9648.43,1.0054),(9648.89,1.0060),
 (9649.04,1.001),(9649.24,0.9117),(9649.46,0.8425),(9649.58,0.9117),(9649.74,1.0032),(9649.92,1.0045),(9650.00,1.0040)]
I1_obs = [
 (8832.85,0.999),(8832.90,0.997),(8834.02,1.003),(8834.10,1.002),(8834.18,1.000),(8834.26,1.001),(8834.34,1.002),
 (8834.42,0.999),(8834.50,1.001),(8834.58,1.000),(8835.05,0.999),(8835.13,1.001),(8835.21,1.000),(8835.29,0.998),
 (8835.37,1.002),(8835.45,1.000),(8835.53,1.002),(8835.61,1.001),(8835.69,1.003),(8835.77,1.002),(8835.85,1.001),
 (8835.93,1.003),(8836.01,1.002),(8836.09,1.001),(8836.17,1.003),(8836.25,1.002),(8836.33,1.001),(8836.80,1.002),
 (8836.86,1.003),(8836.92,1.001),(8837.35,1.005),(8837.42,1.007),(8837.48,1.006),(8837.54,1.007),(8837.60,1.006),
 (8837.66,1.005),(8838.55,0.998),(8838.63,0.999),(8838.71,1.000),(8838.79,1.002),(8838.87,1.001),(8838.95,1.003),
 (8839.03,1.002),(8839.11,1.001),(8839.19,1.003),(8839.27,1.002),(8839.35,1.001),(8839.43,1.002),(8839.51,1.000),
 (8839.59,1.001),(8839.67,1.002),(8839.75,1.000),(8840.30,1.001),(8840.38,1.000),(8840.46,0.999),(8840.54,1.001),
 (8840.62,0.998),(8840.70,1.000),(8840.78,0.999),(8840.86,0.998),(8840.94,1.000),(8841.02,0.999)]
I1_obs2 = [
 (8832.00,1.003),(8832.08,1.004),(8832.16,1.002),(8832.24,1.005),(8832.32,1.003),(8832.40,1.002),(8832.48,1.004),
 (8832.56,1.001),(8832.64,1.003),(8832.72,1.002),(8832.80,1.000),(8833.30,0.998),(8833.38,0.997),(8833.46,0.999),
 (8833.54,1.000),(8833.62,0.998),(8833.70,1.000),(8833.78,0.999),(8833.86,0.997),(8833.94,1.000)]
I2_obs = [
 (9647.74,1.012),(9647.75,1.008),(9647.76,1.004),(9647.77,1.001),(9647.81,0.983),(9647.84,0.9474),(9647.86,0.9296),
 (9647.87,0.9117),(9647.89,0.894),(9647.90,0.874),(9647.92,0.849),(9647.93,0.829),(9647.95,0.810),(9647.97,0.790),
 (9647.98,0.778),(9648.01,0.827),(9648.04,0.844),(9648.07,0.855),(9648.10,0.864),(9648.14,0.868),(9648.17,0.862),
 (9648.20,0.866)]

# ===================== STYLE =====================
sns.set_theme(style="ticks")
plt.rcParams['font.family'] = ['Liberation Sans', 'DejaVu Sans']
FS = 8.5
YFS = 9

# narrow face for the x tick numbers (the reference uses a condensed digit style)
_fonts = font_manager.fontManager.ttflist
_names = {f.name for f in _fonts}
XT_KW = None
for cand in ['Liberation Sans Narrow', 'Roboto Condensed', 'Open Sans Condensed', 'Arial Narrow', 'Nimbus Sans Narrow']:
    if cand in _names:
        XT_KW = dict(fontfamily=[cand, 'DejaVu Sans'], fontsize=8.6)
        break
if XT_KW is None and any(f.name == 'DejaVu Sans' and str(f.stretch) in ('condensed', 'semi-condensed') for f in _fonts):
    XT_KW = dict(fontfamily=['DejaVu Sans'], fontstretch='condensed', fontsize=8.0)
if XT_KW is None:
    XT_KW = dict(fontfamily=['Liberation Sans', 'DejaVu Sans'], fontsize=7.8)

RED, PINK, BLUE, STEEL, GRAYL = '#ff0000', '#ffbdbd', '#1414f0', '#5a8cb8', '#b8b8b8'

W, H = 1282, 817
fig = plt.figure(figsize=(W / 100, H / 100), dpi=100)


def arr(pairs):
    a = np.array(pairs, dtype=float)
    return a[:, 0], a[:, 1]


def in_cover(t, cover):
    if cover is None:
        return np.ones_like(t, dtype=bool)
    m = np.zeros_like(t, dtype=bool)
    for a, b in cover:
        m |= (t >= a) & (t <= b)
    return m


def draw_seg(ax, seg):
    if seg.get('gray') is not None:
        gt, gf = arr(seg['gray'])
        sns.lineplot(x=gt, y=gf, ax=ax, sort=False, estimator=None, color=GRAYL, linewidth=0.9, zorder=1)
    mt, mf = arr(seg['model'])
    sns.lineplot(x=mt, y=mf, ax=ax, sort=False, estimator=None, color=PINK, linewidth=2.2, zorder=2)
    sns.lineplot(x=mt, y=mf, ax=ax, sort=False, estimator=None, color=RED, linewidth=0.8, zorder=3)
    if seg.get('obs2') is not None:
        ot, of = arr(seg['obs2'])
        sns.scatterplot(x=ot, y=of, ax=ax, color=STEEL, s=6, linewidth=0, zorder=4, legend=False)
    pts_t, pts_f = [], []
    if seg.get('marks', False):
        m = in_cover(mt, seg.get('cover'))
        if seg.get('fmax') is not None:
            m &= mf < seg['fmax']
        pts_t.append(mt[m]); pts_f.append(mf[m])
    if seg.get('obs') is not None:
        ot, of = arr(seg['obs'])
        pts_t.append(ot); pts_f.append(of)
    if pts_t:
        sns.scatterplot(x=np.concatenate(pts_t), y=np.concatenate(pts_f), ax=ax, color=BLUE, s=6,
                        linewidth=0, zorder=5, legend=False)


def make_panel(xb, py0, py1, segs, ylim, yticks, ymin, frame='black'):
    n = len(segs)
    for i, seg in enumerate(segs):
        ax = fig.add_axes([xb[i] / W, 1 - py1 / H, (xb[i + 1] - xb[i]) / W, (py1 - py0) / H])
        draw_seg(ax, seg)
        ax.set_xlim(seg['xlim'])
        ax.set_ylim(ylim)
        ax.xaxis.set_major_locator(FixedLocator(seg['xticks']))
        ax.set_xticklabels([str(v) for v in seg['xticks']], color='#111111', **XT_KW)
        ax.xaxis.set_minor_locator(MultipleLocator(seg['xminor']))
        ax.yaxis.set_major_locator(FixedLocator(yticks))
        ax.yaxis.set_minor_locator(MultipleLocator(ymin))
        ax.set_yticklabels(['%.2f' % v for v in yticks], fontsize=YFS, color='#111111')
        ax.set_xlabel(''); ax.set_ylabel('')
        ax.tick_params(which='both', direction='in', top=True, right=(i == n - 1), left=(i == 0),
                       labelleft=(i == 0), color=frame, pad=3)
        ax.tick_params(which='major', length=3.5, width=0.6)
        ax.tick_params(which='minor', length=2, width=0.5)
        for sp in ax.spines.values():
            sp.set_color(frame)
            sp.set_linewidth(0.8)
        if i < n - 1:
            ax.spines['right'].set_visible(False)


def ftext(x, y, s, ha='left', va='center', rot=0):
    fig.text(x / W, 1 - y / H, s, ha=ha, va=va, fontsize=FS, rotation=rot, color='#111111')


def decorate(title, tpos, slabels, xlab_pos, ylab_pos):
    ftext(tpos[0], tpos[1], title, ha='center')
    for s, (x, y) in slabels:
        ftext(x, y, s)
    ftext(xlab_pos[0], xlab_pos[1], 'BJD - 2450000', ha='center')
    ftext(ylab_pos[0], ylab_pos[1], 'Normalized Flux', ha='center', rot=90)


# ---------- Panel A
make_panel([94, 423], 12, 230,
           [dict(model=A_model, marks=True, xlim=(9363.19, 9374.66), xticks=[9364, 9366, 9368, 9370, 9372, 9374], xminor=0.5)],
           (0.6805, 1.0569), [0.70, 0.75, 0.80, 0.85, 0.90, 0.95, 1.00, 1.05], 0.025)
decorate('TIC 47151245 (V726 Sco)', (259, 22), [('S39', (117, 218))], (259, 260), (47, 120))

# ---------- Panel B
make_panel([499, 657, 836], 7, 232,
           [dict(model=B1_model, marks=True, fmax=0.985, obs=B1_obs, obs2=B1_obs2, xlim=(9474.07, 9478.67), xticks=[9475, 9477], xminor=0.5),
            dict(model=B2_model, marks=True, fmax=0.985, obs=B2_obs, obs2=B2_obs2, xlim=(9519.68, 9524.86), xticks=[9521, 9523], xminor=0.5)],
           (0.6583, 1.0908), [0.70, 0.75, 0.80, 0.85, 0.90, 0.95, 1.00, 1.05], 0.025, frame='#999999')
decorate('TIC 81525800', (578, 22), [('S43', (513, 222)), ('S44', (675, 222))], (667, 262), (454, 120))

# ---------- Panel C
make_panel([910, 996, 1239], 12, 230,
           [dict(model=C1_model, obs=C1_obs, xlim=(4583.33, 4592.89), xticks=[4585, 4590], xminor=1),
            dict(model=C2_model, obs=C2_obs, obs2=C2_obs2, xlim=(9412.28, 9441.6), xticks=[9415, 9420, 9425, 9430, 9435], xminor=1)],
           (0.8690, 1.0147), [0.88, 0.90, 0.92, 0.94, 0.96, 0.98, 1.00], 0.01)
decorate('TIC 99013269', (1075, 22), [('KELT', (915, 218)), ('S41', (1002, 218))], (1074, 259), (862, 122))

# ---------- Panel D
make_panel([88, 155, 225, 324, 413], 285, 500,
           [dict(model=D1_model, marks=True, obs=D1_obs, xlim=(8739.48, 8741.76), xticks=[8740, 8741], xminor=0.5),
            dict(model=D2_model, marks=True, obs=D2_obs, xlim=(8904.57, 8907.40), xticks=[8905, 8906, 8907], xminor=0.5),
            dict(model=D3_model, marks=True, obs=D3_obs, xlim=(9400.49, 9403.69), xticks=[9401, 9402, 9403], xminor=0.5),
            dict(model=D4_model, marks=True, cover=[(9731.36, 9733.56)], obs=D4_obs, xlim=(9730.61, 9733.56), xticks=[9731, 9732, 9733], xminor=0.5)],
           (0.749, 1.0356), [0.75, 0.80, 0.85, 0.90, 0.95, 1.00], 0.025)
decorate('TIC 229785001', (249, 295), [('S16', (92, 491)), ('S22', (157, 491)), ('S40', (230, 491)), ('S52', (329, 491))],
         (249, 528), (45, 392))

# ---------- Panel E
make_panel([497, 667, 832], 280, 499,
           [dict(model=E1_model, marks=True, cover=E1_cover, obs=E1_obs, xlim=(8706.44, 8712.78), xticks=[8707, 8709, 8711], xminor=0.5),
            dict(model=E2_model, marks=True, obs=E2_obs, xlim=(9811.04, 9817.22), xticks=[9812, 9814, 9816], xminor=0.5)],
           (0.5378, 1.0727), [0.55, 0.60, 0.65, 0.70, 0.75, 0.80, 0.85, 0.90, 0.95, 1.00, 1.05], 0.025)
decorate('TIC 276162169  (V493 Cyg)', (584, 291), [('S14', (503, 490)), ('S55', (671, 490))], (664, 528), (452, 390))

# ---------- Panel F
make_panel([916, 1019, 1128, 1245], 282, 500,
           [dict(model=F1_model, obs=F1_obs, xlim=(8999.93, 9010.23), xticks=[9000, 9005], xminor=1),
            dict(model=F2_model, obs=F2_obs, xlim=(9010.0, 9019.3), xticks=[9010, 9015], xminor=1),
            dict(model=F3_model, obs=F3_obs, xlim=(9743.49, 9755.07), xticks=[9745, 9750, 9755], xminor=1)],
           (0.9396, 1.0132), [0.94, 0.96, 0.98, 1.00], 0.01)
decorate('TIC 280883908', (1074, 291), [('S25', (922, 488)), ('S26', (1027, 488)), ('S53', (1136, 488))], (1082, 528), (867, 392))

# ---------- Panel G
make_panel([87, 413], 553, 769,
           [dict(model=G_model, gray=G_gray, marks=True, cover=G_cover, obs=G_obs, xlim=(8624, 8634), xticks=[8624, 8626, 8628, 8630, 8632, 8634], xminor=0.5)],
           (0.7192, 1.0567), [0.75, 0.80, 0.85, 0.90, 0.95, 1.00, 1.05], 0.025)
decorate('TIC 294803663', (249, 563), [('S12', (109, 758))], (249, 798), (40, 660))

# ---------- Panel H
make_panel([499, 659, 829], 549, 769,
           [dict(model=H1_model, marks=True, cover=H1_cover, obs=H1_obs, obs2=H1_obs2, xlim=(8579.80, 8587.15), xticks=[8580, 8582, 8584, 8586], xminor=0.5),
            dict(model=H2_model, marks=True, obs=H2_obs, obs2=H2_obs2, xlim=(9307.40, 9314.83), xticks=[9308, 9310, 9312, 9314], xminor=0.5)],
           (0.9142, 1.0296), [0.92, 0.94, 0.96, 0.98, 1.00, 1.02], 0.01)
decorate('TIC 332521671', (581, 563), [('S10', (506, 759)), ('S37', (665, 759))], (664, 798), (455, 660))

# ---------- Panel I
make_panel([912, 1165, 1249], 547, 770,
           [dict(model=I1_model, marks=True, fmax=0.99, obs=I1_obs, obs2=I1_obs2, xlim=(8831.99, 8841.04), xticks=[8832, 8834, 8836, 8838, 8840], xminor=0.5),
            dict(model=I2_model, obs=I2_obs, xlim=(9646.12, 9650.0), xticks=[9648, 9650], xminor=0.5)],
           (0.7509, 1.05), [0.80, 0.85, 0.90, 0.95, 1.00, 1.05], 0.025, frame='#999999')
decorate('TIC 356324779', (1025, 561), [('S19', (930, 762)), ('GAO80', (1202, 762))], (1081, 802), (867, 658))

fig.savefig('out.png', dpi=100, facecolor='white')
